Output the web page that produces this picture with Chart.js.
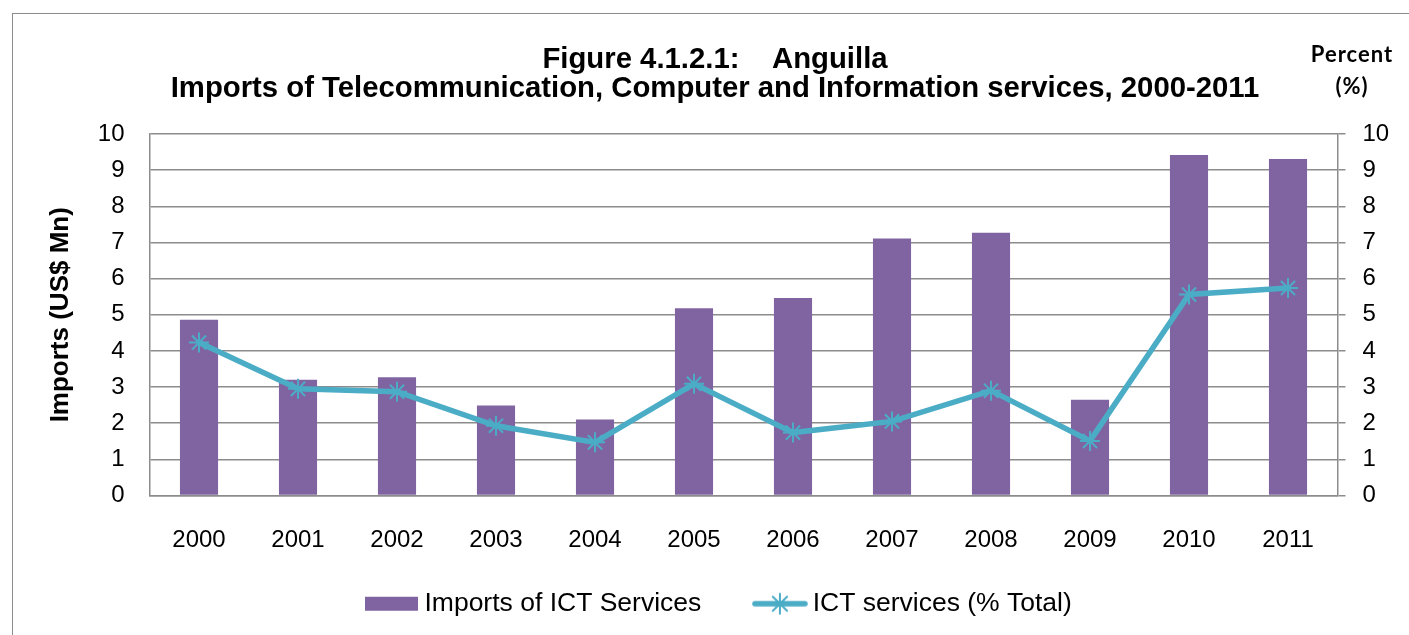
<!DOCTYPE html>
<html>
<head>
<meta charset="utf-8">
<script src="https://cdn.jsdelivr.net/npm/chart.js@4.4.1/dist/chart.umd.min.js"></script>
<style>
  html, body { margin: 0; padding: 0; background: #ffffff; overflow: hidden; }
  #wrap { position: relative; width: 1409px; height: 635px; }
  #frame { position: absolute; left: 12px; top: 13px; width: 1500px; height: 700px; border: 1.5px solid #8c8c8c; }
  canvas { position: absolute; left: 0; top: 0; }
</style>
</head>
<body>
<div id="wrap">
  <div id="frame"></div>
  <canvas id="c" width="1409" height="635"></canvas>
</div>
<script>
// ---- data ----
const years = ['2000','2001','2002','2003','2004','2005','2006','2007','2008','2009','2010','2011'];
const importsICT = [4.86, 3.20, 3.27, 2.49, 2.10, 5.18, 5.46, 7.11, 7.27, 2.65, 9.42, 9.31];
const ictShare = [4.23, 2.95, 2.87, 1.93, 1.47, 3.09, 1.74, 2.05, 2.90, 1.51, 5.56, 5.74];
const yTicks = [0, 1, 2, 3, 4, 5, 6, 7, 8, 9, 10];
const seriesNames = ['Imports of ICT Services', 'ICT services (% Total)'];
const titleLines = ['Figure 4.1.2.1:    Anguilla', 'Imports of Telecommunication, Computer and Information services, 2000-2011'];
const rightTitleLines = ['Percent', '(%)'];
const leftTitle = 'Imports (US$ Mn)';

const FONT = "'Liberation Sans', Arial, sans-serif";
const PURPLE = '#8064A2';
const TEAL = '#4BACC6';
const GRID = '#8c8c8c';

Chart.defaults.font.family = FONT;
Chart.defaults.color = '#000';

// legend icons
function makeBarIcon() {
  const c = document.createElement('canvas');
  c.width = 53; c.height = 26;
  const g = c.getContext('2d');
  g.fillStyle = PURPLE;
  g.fillRect(0, 6, 53, 14);
  return c;
}
function makeLineIcon() {
  const c = document.createElement('canvas');
  c.width = 56; c.height = 26;
  const g = c.getContext('2d');
  g.strokeStyle = TEAL;
  g.lineCap = 'round';
  g.lineWidth = 5.5;
  g.beginPath(); g.moveTo(3, 13); g.lineTo(53, 13); g.stroke();
  g.lineWidth = 2;
  const r = 10, cx = 28, cy = 13;
  g.beginPath();
  g.moveTo(cx, cy - r); g.lineTo(cx, cy + r);
  const d = r * Math.SQRT1_2;
  g.moveTo(cx - d, cy - d); g.lineTo(cx + d, cy + d);
  g.moveTo(cx - d, cy + d); g.lineTo(cx + d, cy - d);
  g.stroke();
  return c;
}
const legendIcons = [makeBarIcon(), makeLineIcon()];
// extra spacing after each legend entry (item gap in the reference is wider than the legend padding)
const legendTrail = ['   ', ''];

const titlePlugin = {
  id: 'customTitles',
  afterDraw(chart) {
    const ctx = chart.ctx;
    ctx.save();
    ctx.fillStyle = '#000';
    ctx.textAlign = 'center';
    ctx.textBaseline = 'alphabetic';
    ctx.font = "bold 29.3px " + FONT;
    ctx.fillText(titleLines[0], 715, 67.5);
    ctx.fillText(titleLines[1], 715, 97);
    ctx.font = "bold 22px Lato, 'Open Sans', sans-serif";
    try { ctx.letterSpacing = '1px'; } catch (e) {}
    ctx.fillText(rightTitleLines[0], 1352, 62);
    ctx.fillText(rightTitleLines[1], 1352, 94);
    ctx.restore();
  }
};

new Chart(document.getElementById('c'), {
  data: {
    labels: years,
    datasets: [
      {
        type: 'bar',
        label: seriesNames[0],
        data: importsICT,
        backgroundColor: PURPLE,
        borderWidth: 0,
        yAxisID: 'y',
        categoryPercentage: 1,
        barPercentage: 0.385,
        order: 1
      },
      {
        type: 'line',
        label: seriesNames[1],
        data: ictShare,
        borderColor: TEAL,
        backgroundColor: TEAL,
        borderWidth: 5.5,
        tension: 0,
        pointStyle: 'star',
        pointRadius: 10,
        pointBorderWidth: 2,
        pointBorderColor: TEAL,
        pointBackgroundColor: TEAL,
        yAxisID: 'y2',
        order: 0
      }
    ]
  },
  options: {
    responsive: false,
    animation: false,
    devicePixelRatio: 1,
    layout: { padding: { left: 35, right: 0, top: 134, bottom: 8 } },
    plugins: {
      title: { display: false },
      tooltip: { enabled: false },
      legend: {
        display: true,
        position: 'bottom',
        align: 'center',
        labels: {
          usePointStyle: true,
          pointStyleWidth: 39,
          boxHeight: 26,
          padding: 37,
          color: '#000',
          font: { size: 26.5, family: FONT },
          generateLabels: (chart) => chart.data.datasets.map((ds, i) => ({
            text: ds.label + legendTrail[i],
            pointStyle: legendIcons[i],
            fillStyle: 'rgba(0,0,0,0)',
            strokeStyle: 'rgba(0,0,0,0)',
            lineWidth: 0,
            hidden: false,
            datasetIndex: i,
            fontColor: '#000'
          }))
        }
      }
    },
    scales: {
      x: {
        type: 'category',
        offset: true,
        grid: { display: false, drawTicks: false },
        border: { display: true, color: GRID, width: 1.5 },
        ticks: { font: { size: 24 }, color: '#000', padding: 30, maxRotation: 0, autoSkip: false },
        afterFit(s) { s.height = 58; }
      },
      y: {
        type: 'linear',
        position: 'left',
        min: 0, max: 10,
        afterBuildTicks(s) { s.ticks = yTicks.map(v => ({ value: v })); },
        grid: { display: true, color: GRID, lineWidth: 1.5, drawTicks: false },
        border: { display: true, color: GRID, width: 1.5 },
        ticks: { font: { size: 24 }, color: '#000', padding: 25 },
        title: { display: true, text: leftTitle, font: { size: 26, weight: 'bold' }, color: '#000', padding: { top: 10, bottom: 0 } },
        afterFit(s) { s.width = 114.5; }
      },
      y2: {
        type: 'linear',
        position: 'right',
        min: 0, max: 10,
        afterBuildTicks(s) { s.ticks = yTicks.map(v => ({ value: v })); },
        grid: { display: true, drawOnChartArea: false, color: GRID, lineWidth: 1.5, drawTicks: true, tickLength: 8 },
        border: { display: true, color: GRID, width: 1.5 },
        ticks: { font: { size: 24 }, color: '#000', padding: 17 },
        afterFit(s) { s.width = 71.5; }
      }
    }
  },
  plugins: [titlePlugin]
});
</script>
</body>
</html>
